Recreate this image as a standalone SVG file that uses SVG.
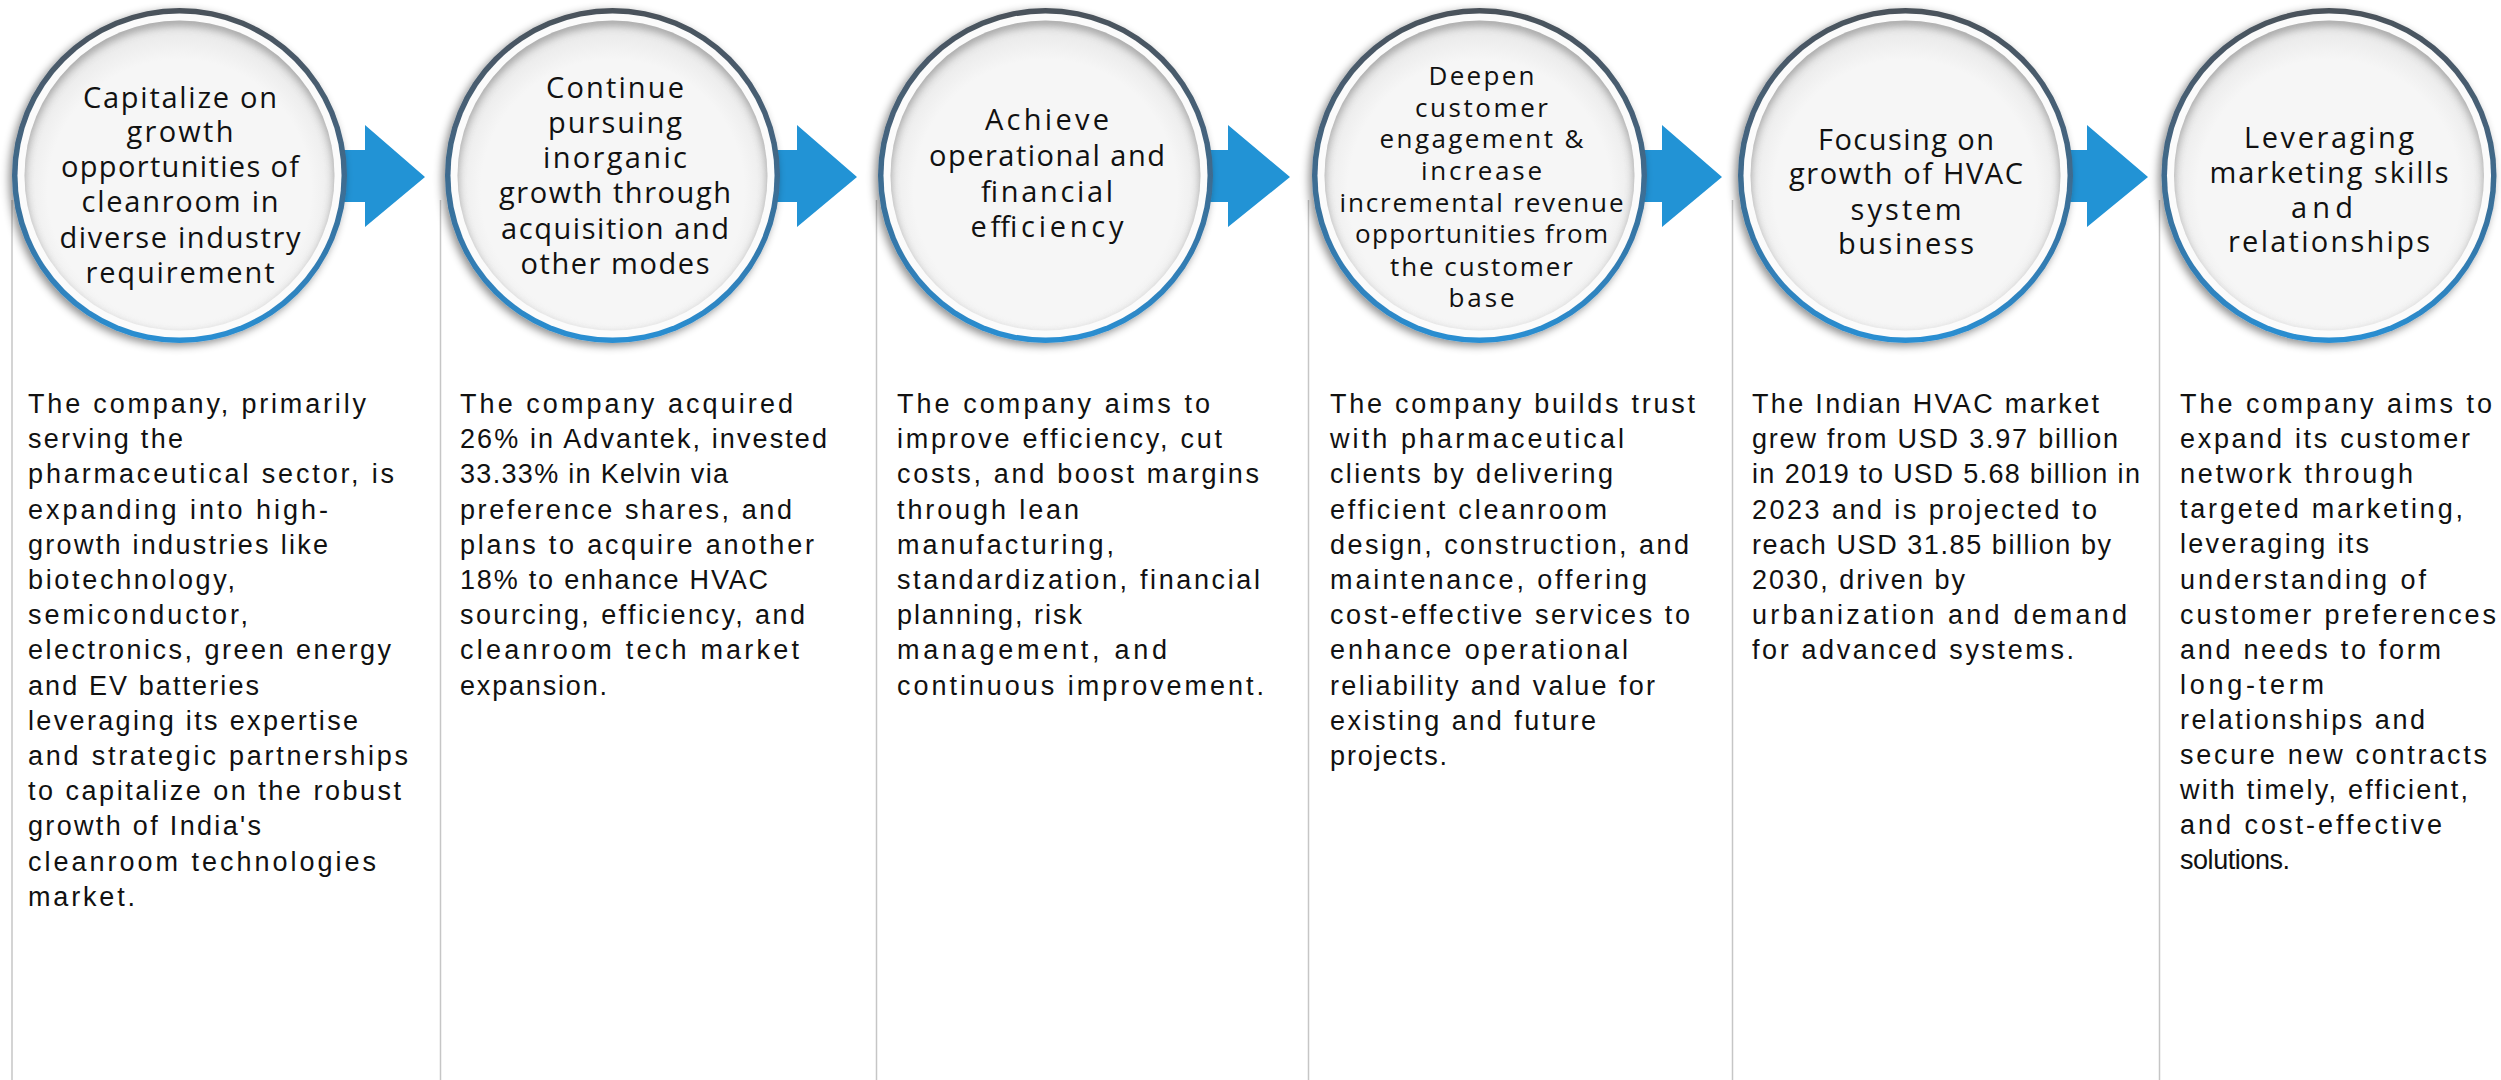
<svg xmlns="http://www.w3.org/2000/svg" xmlns:xlink="http://www.w3.org/1999/xlink" width="2501" height="1080" viewBox="0 0 2501 1080">
<defs>
<style>
.div{stroke:#c6c6c6;stroke-width:1.5;fill:none}
.arrow{fill:#2293d5}
.title{font-family:"Open Sans","Noto Sans","Liberation Sans",sans-serif;font-size:29px;fill:#111;text-anchor:middle}
.t4{font-size:26px}
.body{font-family:"Liberation Sans",Arial,sans-serif;font-size:27px;fill:#111}
</style>
<linearGradient id="ring" x1="0" y1="0" x2="0" y2="1">
<stop offset="0" stop-color="#4b525a"/>
<stop offset="0.35" stop-color="#46627a"/>
<stop offset="0.7" stop-color="#3478ab"/>
<stop offset="1" stop-color="#2a8fd3"/>
</linearGradient>
<radialGradient id="innerFill" cx="0.5" cy="0.55" r="0.5">
<stop offset="0.85" stop-color="#f6f6f6"/>
<stop offset="1" stop-color="#ececec"/>
</radialGradient>
<filter id="drop" x="-20%" y="-20%" width="140%" height="140%">
<feDropShadow dx="-3" dy="3" stdDeviation="4" flood-color="#000" flood-opacity="0.45"/>
</filter>
<filter id="soft" x="-20%" y="-20%" width="140%" height="140%">
<feGaussianBlur stdDeviation="4"/>
</filter>
<clipPath id="innerClip"><circle cx="0" cy="0" r="155"/></clipPath>
<g id="badge">
<circle r="167.5" fill="url(#ring)" filter="url(#drop)"/>
<circle r="162" fill="#fbfbfb"/>
<circle r="155" fill="url(#innerFill)"/>
<g clip-path="url(#innerClip)">
<circle cx="0" cy="5" r="160" fill="none" stroke="#8c8c8c" stroke-width="10" filter="url(#soft)" opacity="0.8"/>
</g>
</g>
</defs>
<rect width="2501" height="1080" fill="#ffffff"/>
<g id="dividers">
<line class="div" x1="12" y1="200" x2="12" y2="1080"/>
<line class="div" x1="440.5" y1="200" x2="440.5" y2="1080"/>
<line class="div" x1="876.5" y1="200" x2="876.5" y2="1080"/>
<line class="div" x1="1308.5" y1="200" x2="1308.5" y2="1080"/>
<line class="div" x1="1732.5" y1="200" x2="1732.5" y2="1080"/>
<line class="div" x1="2159.5" y1="200" x2="2159.5" y2="1080"/>
</g>
<g id="connectors">
<polygon class="arrow" points="330,150 365,150 365,125 425,177 365,227 365,202 330,202"/>
<polygon class="arrow" points="765,150 797,150 797,125 857,177 797,227 797,202 765,202"/>
<polygon class="arrow" points="1195,150 1228,150 1228,125 1290,177 1228,227 1228,202 1195,202"/>
<polygon class="arrow" points="1630,150 1662,150 1662,125 1722,177 1662,227 1662,202 1630,202"/>
<polygon class="arrow" points="2055,150 2087,150 2087,125 2148,177 2087,227 2087,202 2055,202"/>
</g>
<g id="node1">
<use xlink:href="#badge" href="#badge" transform="translate(179.5,175.5)"/>
<text class="title"><tspan x="180" y="108" textLength="194" lengthAdjust="spacing">Capitalize on</tspan><tspan x="180" y="142" textLength="107" lengthAdjust="spacing">growth</tspan><tspan x="180" y="177" textLength="238" lengthAdjust="spacing">opportunities of</tspan><tspan x="180" y="212" textLength="197" lengthAdjust="spacing">cleanroom in</tspan><tspan x="180" y="248" textLength="241" lengthAdjust="spacing">diverse industry</tspan><tspan x="180" y="283" textLength="189" lengthAdjust="spacing">requirement</tspan></text>
<text class="body"><tspan x="28" y="413" textLength="338" lengthAdjust="spacing">The company, primarily</tspan><tspan x="28" y="448.2" textLength="155" lengthAdjust="spacing">serving the</tspan><tspan x="28" y="483.4" textLength="366" lengthAdjust="spacing">pharmaceutical sector, is</tspan><tspan x="28" y="518.6" textLength="300" lengthAdjust="spacing">expanding into high-</tspan><tspan x="28" y="553.8" textLength="300" lengthAdjust="spacing">growth industries like</tspan><tspan x="28" y="589" textLength="207" lengthAdjust="spacing">biotechnology,</tspan><tspan x="28" y="624.2" textLength="220" lengthAdjust="spacing">semiconductor,</tspan><tspan x="28" y="659.4" textLength="363" lengthAdjust="spacing">electronics, green energy</tspan><tspan x="28" y="694.6" textLength="231" lengthAdjust="spacing">and EV batteries</tspan><tspan x="28" y="729.8" textLength="330" lengthAdjust="spacing">leveraging its expertise</tspan><tspan x="28" y="765" textLength="380" lengthAdjust="spacing">and strategic partnerships</tspan><tspan x="28" y="800.2" textLength="373" lengthAdjust="spacing">to capitalize on the robust</tspan><tspan x="28" y="835.4" textLength="233" lengthAdjust="spacing">growth of India's</tspan><tspan x="28" y="870.6" textLength="348" lengthAdjust="spacing">cleanroom technologies</tspan><tspan x="28" y="905.8" textLength="107" lengthAdjust="spacing">market.</tspan></text>
</g>
<g id="node2">
<use xlink:href="#badge" href="#badge" transform="translate(612.5,175.5)"/>
<text class="title"><tspan x="615" y="98" textLength="138" lengthAdjust="spacing">Continue</tspan><tspan x="615" y="133" textLength="134" lengthAdjust="spacing">pursuing</tspan><tspan x="615" y="168" textLength="144" lengthAdjust="spacing">inorganic</tspan><tspan x="615" y="203" textLength="232" lengthAdjust="spacing">growth through</tspan><tspan x="615" y="239" textLength="228" lengthAdjust="spacing">acquisition and</tspan><tspan x="615" y="274" textLength="189" lengthAdjust="spacing">other modes</tspan></text>
<text class="body"><tspan x="460" y="413" textLength="333" lengthAdjust="spacing">The company acquired</tspan><tspan x="460" y="448.2" textLength="367" lengthAdjust="spacing">26% in Advantek, invested</tspan><tspan x="460" y="483.4" textLength="268" lengthAdjust="spacing">33.33% in Kelvin via</tspan><tspan x="460" y="518.6" textLength="332" lengthAdjust="spacing">preference shares, and</tspan><tspan x="460" y="553.8" textLength="354" lengthAdjust="spacing">plans to acquire another</tspan><tspan x="460" y="589" textLength="308" lengthAdjust="spacing">18% to enhance HVAC</tspan><tspan x="460" y="624.2" textLength="345" lengthAdjust="spacing">sourcing, efficiency, and</tspan><tspan x="460" y="659.4" textLength="339" lengthAdjust="spacing">cleanroom tech market</tspan><tspan x="460" y="694.6" textLength="147" lengthAdjust="spacing">expansion.</tspan></text>
</g>
<g id="node3">
<use xlink:href="#badge" href="#badge" transform="translate(1045.5,175.5)"/>
<text class="title"><tspan x="1047" y="130" textLength="124" lengthAdjust="spacing">Achieve</tspan><tspan x="1047" y="166" textLength="236" lengthAdjust="spacing">operational and</tspan><tspan x="1047" y="202" textLength="132" lengthAdjust="spacing">financial</tspan><tspan x="1047" y="237" textLength="153" lengthAdjust="spacing">efficiency</tspan></text>
<text class="body"><tspan x="897" y="413" textLength="313" lengthAdjust="spacing">The company aims to</tspan><tspan x="897" y="448.2" textLength="325" lengthAdjust="spacing">improve efficiency, cut</tspan><tspan x="897" y="483.4" textLength="362" lengthAdjust="spacing">costs, and boost margins</tspan><tspan x="897" y="518.6" textLength="182" lengthAdjust="spacing">through lean</tspan><tspan x="897" y="553.8" textLength="217" lengthAdjust="spacing">manufacturing,</tspan><tspan x="897" y="589" textLength="363" lengthAdjust="spacing">standardization, financial</tspan><tspan x="897" y="624.2" textLength="185" lengthAdjust="spacing">planning, risk</tspan><tspan x="897" y="659.4" textLength="270" lengthAdjust="spacing">management, and</tspan><tspan x="897" y="694.6" textLength="367" lengthAdjust="spacing">continuous improvement.</tspan></text>
</g>
<g id="node4">
<use xlink:href="#badge" href="#badge" transform="translate(1479.5,175.5)"/>
<text class="title t4"><tspan x="1481.5" y="85" textLength="106" lengthAdjust="spacing">Deepen</tspan><tspan x="1481.5" y="117" textLength="133" lengthAdjust="spacing">customer</tspan><tspan x="1481.5" y="148" textLength="204" lengthAdjust="spacing">engagement &amp;</tspan><tspan x="1481.5" y="180" textLength="121" lengthAdjust="spacing">increase</tspan><tspan x="1481.5" y="212" textLength="284" lengthAdjust="spacing">incremental revenue</tspan><tspan x="1481.5" y="243" textLength="253" lengthAdjust="spacing">opportunities from</tspan><tspan x="1481.5" y="276" textLength="183" lengthAdjust="spacing">the customer</tspan><tspan x="1481.5" y="307" textLength="66" lengthAdjust="spacing">base</tspan></text>
<text class="body"><tspan x="1330" y="413" textLength="365" lengthAdjust="spacing">The company builds trust</tspan><tspan x="1330" y="448.2" textLength="294" lengthAdjust="spacing">with pharmaceutical</tspan><tspan x="1330" y="483.4" textLength="283" lengthAdjust="spacing">clients by delivering</tspan><tspan x="1330" y="518.6" textLength="277" lengthAdjust="spacing">efficient cleanroom</tspan><tspan x="1330" y="553.8" textLength="359" lengthAdjust="spacing">design, construction, and</tspan><tspan x="1330" y="589" textLength="317" lengthAdjust="spacing">maintenance, offering</tspan><tspan x="1330" y="624.2" textLength="360" lengthAdjust="spacing">cost-effective services to</tspan><tspan x="1330" y="659.4" textLength="298" lengthAdjust="spacing">enhance operational</tspan><tspan x="1330" y="694.6" textLength="325" lengthAdjust="spacing">reliability and value for</tspan><tspan x="1330" y="729.8" textLength="266" lengthAdjust="spacing">existing and future</tspan><tspan x="1330" y="765" textLength="117" lengthAdjust="spacing">projects.</tspan></text>
</g>
<g id="node5">
<use xlink:href="#badge" href="#badge" transform="translate(1905.5,175.5)"/>
<text class="title"><tspan x="1906" y="150" textLength="176" lengthAdjust="spacing">Focusing on</tspan><tspan x="1906" y="184" textLength="234" lengthAdjust="spacing">growth of HVAC</tspan><tspan x="1906" y="220" textLength="111" lengthAdjust="spacing">system</tspan><tspan x="1906" y="254" textLength="136" lengthAdjust="spacing">business</tspan></text>
<text class="body"><tspan x="1752" y="413" textLength="347" lengthAdjust="spacing">The Indian HVAC market</tspan><tspan x="1752" y="448.2" textLength="366" lengthAdjust="spacing">grew from USD 3.97 billion</tspan><tspan x="1752" y="483.4" textLength="388" lengthAdjust="spacing">in 2019 to USD 5.68 billion in</tspan><tspan x="1752" y="518.6" textLength="345" lengthAdjust="spacing">2023 and is projected to</tspan><tspan x="1752" y="553.8" textLength="359" lengthAdjust="spacing">reach USD 31.85 billion by</tspan><tspan x="1752" y="589" textLength="213" lengthAdjust="spacing">2030, driven by</tspan><tspan x="1752" y="624.2" textLength="375" lengthAdjust="spacing">urbanization and demand</tspan><tspan x="1752" y="659.4" textLength="322" lengthAdjust="spacing">for advanced systems.</tspan></text>
</g>
<g id="node6">
<use xlink:href="#badge" href="#badge" transform="translate(2329,175.5)"/>
<text class="title"><tspan x="2329" y="148" textLength="170" lengthAdjust="spacing">Leveraging</tspan><tspan x="2329" y="183" textLength="239" lengthAdjust="spacing">marketing skills</tspan><tspan x="2322" y="218" textLength="62" lengthAdjust="spacing">and</tspan><tspan x="2329" y="252" textLength="202" lengthAdjust="spacing">relationships</tspan></text>
<text class="body"><tspan x="2180" y="413" textLength="312" lengthAdjust="spacing">The company aims to</tspan><tspan x="2180" y="448.1" textLength="290" lengthAdjust="spacing">expand its customer</tspan><tspan x="2180" y="483.2" textLength="233" lengthAdjust="spacing">network through</tspan><tspan x="2180" y="518.3" textLength="283" lengthAdjust="spacing">targeted marketing,</tspan><tspan x="2180" y="553.4" textLength="189" lengthAdjust="spacing">leveraging its</tspan><tspan x="2180" y="588.5" textLength="246" lengthAdjust="spacing">understanding of</tspan><tspan x="2180" y="623.6" textLength="316" lengthAdjust="spacing">customer preferences</tspan><tspan x="2180" y="658.7" textLength="261" lengthAdjust="spacing">and needs to form</tspan><tspan x="2180" y="693.8" textLength="144" lengthAdjust="spacing">long-term</tspan><tspan x="2180" y="728.9" textLength="245" lengthAdjust="spacing">relationships and</tspan><tspan x="2180" y="764" textLength="307" lengthAdjust="spacing">secure new contracts</tspan><tspan x="2180" y="799.1" textLength="288" lengthAdjust="spacing">with timely, efficient,</tspan><tspan x="2180" y="834.2" textLength="262" lengthAdjust="spacing">and cost-effective</tspan><tspan x="2180" y="869.3" textLength="110" lengthAdjust="spacing">solutions.</tspan></text>
</g>
</svg>
